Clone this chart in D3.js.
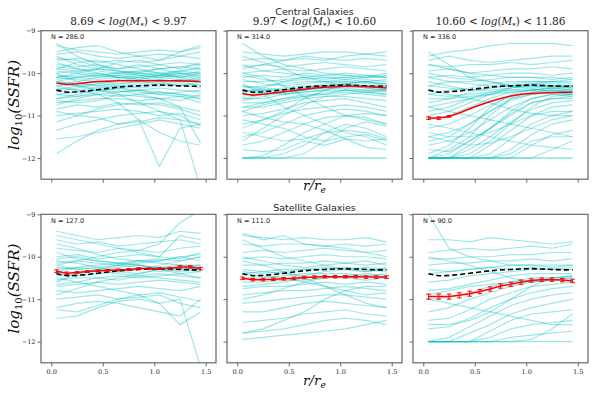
<!DOCTYPE html>
<html lang="en">
<head>
<meta charset="UTF-8">
<title>SSFR radial profiles</title>
<script src="https://d3js.org/d3.v7.min.js"></script>
<style>
  body { margin: 0; background: #fff; }
  svg { display: block; }
  .axis path, .axis line { stroke: #666; }
  .axis text { fill: #222; font-family: "DejaVu Serif", serif; font-size: 6.5px; }
  .title { font-family: "DejaVu Serif", serif; font-size: 10.5px; fill: #222; }
  .head { font-family: "DejaVu Sans", sans-serif; font-size: 9.5px; fill: #222; }
  .nlab { font-family: "DejaVu Sans", sans-serif; font-size: 6.5px; fill: #222; }
  .lab { font-family: "DejaVu Serif", serif; font-style: italic; fill: #111; }
</style>
</head>
<body>
<svg id="chart" width="598" height="399"></svg>
<script>
// radii of the individual profiles and of the binned medians
const rProfile = [0.05, 0.25, 0.45, 0.65, 0.85, 1.05, 1.25, 1.45];
const rBins = [0.05, 0.15, 0.25, 0.35, 0.45, 0.55, 0.65, 0.75, 0.85, 0.95, 1.05, 1.15, 1.25, 1.35, 1.45];

const massTitles = [["8.69", "9.97"], ["9.97", "10.60"], ["10.60", "11.86"]];
const nCentral = [286.0, 314.0, 336.0];
const nSatellite = [127.0, 111.0, 90.0];

// median of all galaxies (dashed black)
const allMedian = [-10.40, -10.45, -10.44, -10.42, -10.39, -10.36, -10.33, -10.31, -10.30, -10.29, -10.28, -10.29, -10.30, -10.31, -10.31];

// medians of each subsample (red) and their errors
const cenMedLow = [-10.23, -10.27, -10.25, -10.22, -10.20, -10.19, -10.18, -10.18, -10.18, -10.18, -10.18, -10.18, -10.18, -10.19, -10.20];
const cenMedMid = [-10.48, -10.52, -10.50, -10.47, -10.44, -10.41, -10.38, -10.35, -10.33, -10.32, -10.31, -10.31, -10.32, -10.33, -10.35];
const cenMedHigh = [-11.06, -11.06, -11.02, -10.94, -10.84, -10.75, -10.67, -10.60, -10.54, -10.50, -10.48, -10.47, -10.46, -10.45, -10.45];
const satMedLow = [-10.34, -10.39, -10.37, -10.35, -10.33, -10.32, -10.31, -10.30, -10.28, -10.28, -10.28, -10.27, -10.24, -10.24, -10.28];
const satMedMid = [-10.51, -10.54, -10.54, -10.53, -10.52, -10.51, -10.49, -10.48, -10.47, -10.47, -10.47, -10.47, -10.48, -10.48, -10.48];
const satMedHigh = [-10.94, -10.94, -10.94, -10.91, -10.87, -10.82, -10.76, -10.69, -10.65, -10.60, -10.56, -10.54, -10.54, -10.55, -10.57];

const cenErrLow = [0, 0, 0, 0, 0, 0, 0, 0, 0, 0, 0, 0, 0, 0, 0];
const cenErrMid = [0, 0, 0, 0, 0, 0, 0, 0, 0, 0, 0, 0, 0, 0, 0];
const cenErrHigh = [0.03, 0.03, 0.02, 0, 0, 0, 0, 0, 0, 0, 0, 0, 0, 0, 0];
const satErrLow = [0.03, 0.03, 0.02, 0.02, 0.02, 0.02, 0.02, 0.02, 0.02, 0.02, 0.02, 0.02, 0.03, 0.03, 0.03];
const satErrMid = [0.03, 0.03, 0.03, 0.03, 0.03, 0.03, 0.03, 0.03, 0.03, 0.03, 0.03, 0.03, 0.03, 0.03, 0.03];
const satErrHigh = [0.06, 0.06, 0.06, 0.06, 0.06, 0.05, 0.05, 0.05, 0.05, 0.05, 0.04, 0.04, 0.04, 0.04, 0.04];

// individual galaxy profiles (a readable subset of each sample)
const cenProfLow = [
  [-9.35, -9.45, -9.5, -9.55, -9.5, -9.45, -9.5, -9.4],
  [-9.55, -9.5, -9.6, -9.65, -9.6, -9.55, -9.6, -9.5],
  [-9.7, -9.65, -9.75, -9.7, -9.75, -9.7, -9.6, -9.65],
  [-9.8, -9.85, -9.8, -9.9, -9.85, -9.8, -9.75, -9.8],
  [-9.9, -9.95, -9.9, -9.95, -10.0, -9.9, -9.85, -9.9],
  [-10.0, -9.95, -10.05, -10.0, -9.95, -10.0, -10.05, -9.95],
  [-10.05, -10.1, -10.05, -10.1, -10.05, -10.0, -10.1, -10.05],
  [-10.15, -10.1, -10.15, -10.1, -10.15, -10.1, -10.05, -10.15],
  [-10.2, -10.25, -10.2, -10.15, -10.2, -10.15, -10.2, -10.1],
  [-10.3, -10.25, -10.3, -10.25, -10.2, -10.25, -10.2, -10.3],
  [-10.35, -10.4, -10.35, -10.3, -10.35, -10.3, -10.25, -10.35],
  [-10.5, -10.45, -10.4, -10.45, -10.4, -10.35, -10.4, -10.45],
  [-10.6, -10.55, -10.5, -10.55, -10.5, -10.45, -10.5, -10.55],
  [-10.7, -10.65, -10.6, -10.6, -10.65, -10.6, -10.55, -10.7],
  [-10.85, -10.75, -10.8, -10.7, -10.75, -10.7, -10.8, -10.9],
  [-11.0, -10.95, -10.9, -10.85, -10.9, -11.0, -10.95, -11.1],
  [-11.55, -11.5, -11.4, -11.3, -11.2, -11.1, -11.2, -11.3],
  [-11.9, -11.6, -11.35, -11.2, -11.15, -11.05, -11.1, -11.2],
  [-10.3, -10.4, -10.5, -10.7, -11.1, -12.2, -11.3, -11.2],
  [-10.2, -10.3, -10.4, -10.5, -10.7, -10.9, -11.1, -12.7],
  [-9.6, -9.8, -9.9, -9.75, -9.7, -9.8, -9.9, -9.75],
  [-9.9, -9.75, -9.7, -9.8, -9.9, -10.0, -9.95, -9.85],
  [-10.1, -10.0, -9.9, -9.95, -10.05, -10.1, -10.0, -10.05],
  [-10.2, -10.1, -10.05, -10.0, -9.95, -9.9, -9.85, -9.8],
  [-10.45, -10.35, -10.25, -10.2, -10.1, -10.05, -10.0, -10.0],
  [-10.6, -10.5, -10.4, -10.35, -10.3, -10.25, -10.3, -10.2],
  [-10.75, -10.6, -10.5, -10.45, -10.4, -10.45, -10.5, -10.6],
  [-11.15, -11.0, -10.85, -10.75, -10.7, -10.75, -10.85, -11.0],
  [-11.35, -11.2, -11.1, -11.0, -10.95, -10.9, -11.0, -11.25],
  [-9.3, -9.6, -9.8, -9.95, -10.0, -10.05, -10.1, -10.2],
  [-10.0, -10.2, -10.3, -10.35, -10.45, -10.5, -10.55, -10.6],
  [-10.9, -11.0, -11.05, -11.2, -11.1, -11.4, -11.6, -11.7],
  [-10.25, -10.3, -10.35, -10.4, -10.5, -10.6, -10.8, -11.65],
  [-9.5, -9.4, -9.35, -9.5, -9.6, -9.7, -9.5, -9.35],
  [-10.1, -10.15, -10.2, -10.25, -10.2, -10.15, -10.2, -10.15],
  [-9.85, -9.9, -9.95, -10.0, -10.05, -10.1, -10.15, -10.2],
  [-9.95, -10.0, -10.1, -10.05, -10.0, -10.05, -9.95, -10.0],
  [-10.1, -10.05, -10.0, -10.1, -10.15, -10.05, -10.1, -10.0],
  [-10.25, -10.2, -10.1, -10.05, -10.1, -10.2, -10.15, -10.2],
  [-10.4, -10.3, -10.25, -10.3, -10.25, -10.2, -10.3, -10.25],
  [-9.75, -9.9, -10.0, -10.1, -10.1, -10.05, -9.95, -9.9],
  [-10.5, -10.55, -10.45, -10.35, -10.4, -10.5, -10.45, -10.4],
  [-9.65, -9.7, -9.85, -9.9, -9.8, -9.9, -10.0, -10.1],
  [-10.65, -10.7, -10.65, -10.5, -10.55, -10.6, -10.65, -10.5]
];
const cenProfMid = [
  [-9.5, -9.55, -9.6, -9.55, -9.5, -9.5, -9.55, -9.5],
  [-9.7, -9.65, -9.7, -9.6, -9.65, -9.7, -9.65, -9.7],
  [-9.85, -9.8, -9.85, -9.8, -9.75, -9.8, -9.85, -9.8],
  [-10.0, -9.95, -9.9, -9.95, -9.9, -9.85, -9.9, -9.95],
  [-10.1, -10.05, -10.1, -10.0, -10.05, -10.0, -10.05, -10.1],
  [-10.2, -10.2, -10.15, -10.1, -10.15, -10.1, -10.15, -10.2],
  [-10.35, -10.3, -10.25, -10.2, -10.2, -10.2, -10.25, -10.25],
  [-10.4, -10.4, -10.35, -10.3, -10.3, -10.25, -10.3, -10.35],
  [-10.5, -10.5, -10.45, -10.4, -10.35, -10.35, -10.4, -10.4],
  [-10.6, -10.6, -10.5, -10.45, -10.4, -10.4, -10.45, -10.5],
  [-10.7, -10.7, -10.6, -10.5, -10.5, -10.45, -10.5, -10.55],
  [-10.8, -10.8, -10.7, -10.6, -10.55, -10.55, -10.6, -10.65],
  [-11.0, -10.95, -10.85, -10.7, -10.65, -10.6, -10.7, -10.8],
  [-11.2, -11.1, -10.95, -10.85, -10.8, -10.75, -10.8, -10.9],
  [-11.5, -11.4, -11.2, -11.0, -10.9, -10.85, -10.9, -11.0],
  [-11.7, -11.6, -11.4, -11.2, -11.05, -11.0, -11.05, -11.2],
  [-12.0, -12.0, -12.0, -12.0, -12.0, -12.0, -12.0, -12.0],
  [-12.0, -12.0, -11.9, -11.7, -11.4, -11.2, -11.3, -11.5],
  [-11.8, -11.85, -11.8, -11.6, -11.7, -11.55, -11.6, -11.55],
  [-11.4, -11.5, -11.6, -11.55, -11.4, -11.35, -11.4, -11.55],
  [-9.3, -9.6, -9.8, -9.9, -10.0, -10.05, -10.1, -10.0],
  [-10.25, -10.5, -10.8, -11.0, -11.2, -11.4, -11.5, -11.7],
  [-10.9, -11.05, -11.15, -11.2, -11.35, -11.55, -11.75, -11.8],
  [-10.0, -10.1, -10.3, -10.55, -10.8, -11.0, -11.1, -11.2],
  [-11.3, -11.1, -10.9, -10.6, -10.4, -10.25, -10.2, -10.25],
  [-11.6, -11.3, -11.0, -10.75, -10.55, -10.5, -10.45, -10.5],
  [-9.6, -9.75, -9.9, -10.1, -10.2, -10.3, -10.35, -10.4],
  [-9.9, -9.8, -9.7, -9.65, -9.7, -9.6, -9.55, -9.6],
  [-10.45, -10.35, -10.2, -10.1, -10.05, -10.05, -10.1, -10.1],
  [-10.65, -10.55, -10.45, -10.35, -10.3, -10.3, -10.3, -10.35],
  [-12.0, -11.95, -11.7, -11.4, -11.2, -11.0, -10.95, -11.0],
  [-12.0, -12.0, -12.0, -11.9, -11.6, -11.3, -11.15, -11.25],
  [-11.1, -11.2, -11.3, -11.5, -11.6, -11.5, -11.45, -11.6],
  [-10.55, -10.45, -10.5, -10.4, -10.3, -10.25, -10.3, -10.3],
  [-10.3, -10.35, -10.4, -10.35, -10.3, -10.25, -10.2, -10.3],
  [-10.8, -10.7, -10.6, -10.55, -10.5, -10.4, -10.45, -10.4],
  [-10.15, -10.25, -10.3, -10.25, -10.2, -10.15, -10.2, -10.15],
  [-10.45, -10.4, -10.4, -10.35, -10.25, -10.2, -10.2, -10.25],
  [-10.3, -10.4, -10.5, -10.45, -10.4, -10.3, -10.35, -10.4],
  [-10.6, -10.5, -10.45, -10.4, -10.35, -10.35, -10.3, -10.3],
  [-10.9, -10.75, -10.65, -10.55, -10.45, -10.4, -10.4, -10.45],
  [-10.05, -10.15, -10.2, -10.15, -10.1, -10.15, -10.1, -10.05],
  [-12.0, -12.0, -12.0, -12.0, -12.0, -12.0, -12.0, -12.0],
  [-9.8, -9.95, -10.0, -10.05, -10.1, -10.1, -10.05, -10.1]
];
const cenProfHigh = [
  [-9.6, -9.5, -9.45, -9.35, -9.3, -9.3, -9.3, -9.35],
  [-9.7, -9.6, -9.7, -9.75, -9.7, -9.65, -9.6, -9.6],
  [-9.8, -9.85, -9.8, -9.8, -9.75, -9.8, -9.75, -9.7],
  [-9.95, -9.9, -10.0, -9.95, -9.9, -9.9, -9.85, -9.9],
  [-10.1, -10.05, -10.1, -10.05, -10.0, -10.0, -10.05, -10.0],
  [-10.3, -10.2, -10.2, -10.15, -10.1, -10.1, -10.1, -10.15],
  [-10.5, -10.4, -10.35, -10.25, -10.2, -10.2, -10.2, -10.2],
  [-10.7, -10.6, -10.45, -10.35, -10.3, -10.25, -10.25, -10.3],
  [-10.9, -10.8, -10.6, -10.45, -10.35, -10.3, -10.3, -10.35],
  [-11.1, -11.0, -10.8, -10.6, -10.45, -10.4, -10.35, -10.4],
  [-11.3, -11.2, -11.0, -10.75, -10.55, -10.45, -10.4, -10.45],
  [-11.5, -11.4, -11.2, -10.9, -10.65, -10.5, -10.45, -10.5],
  [-11.7, -11.6, -11.4, -11.1, -10.8, -10.6, -10.5, -10.55],
  [-12.0, -11.9, -11.6, -11.3, -10.95, -10.7, -10.6, -10.6],
  [-12.0, -12.0, -11.8, -11.5, -11.15, -10.85, -10.7, -10.65],
  [-12.0, -12.0, -12.0, -11.7, -11.35, -11.0, -10.8, -10.75],
  [-12.0, -12.0, -12.0, -11.9, -11.55, -11.2, -11.0, -10.9],
  [-12.0, -12.0, -12.0, -12.0, -11.8, -11.45, -11.2, -11.1],
  [-12.0, -12.0, -12.0, -12.0, -12.0, -11.7, -11.45, -11.35],
  [-12.0, -12.0, -12.0, -12.0, -12.0, -12.0, -11.8, -11.6],
  [-12.0, -12.0, -12.0, -12.0, -12.0, -12.0, -12.0, -12.0],
  [-11.5, -11.6, -11.7, -11.65, -11.5, -11.3, -11.1, -11.0],
  [-11.2, -11.3, -11.4, -11.5, -11.6, -11.7, -11.75, -11.8],
  [-10.8, -10.9, -11.0, -11.1, -11.2, -11.3, -11.4, -11.5],
  [-10.4, -10.5, -10.6, -10.7, -10.85, -10.95, -11.0, -11.0],
  [-10.0, -10.1, -10.15, -10.2, -10.3, -10.35, -10.45, -10.5],
  [-9.5, -9.8, -10.1, -10.2, -10.3, -10.3, -10.35, -10.3],
  [-10.6, -10.6, -10.55, -10.5, -10.45, -10.4, -10.4, -10.45],
  [-11.9, -11.7, -11.3, -10.8, -10.5, -10.4, -10.35, -10.35],
  [-12.0, -11.8, -11.5, -11.0, -10.6, -10.45, -10.4, -10.4],
  [-11.0, -10.9, -10.7, -10.5, -10.35, -10.25, -10.2, -10.25],
  [-12.0, -12.0, -11.9, -11.6, -11.2, -10.8, -10.55, -10.5],
  [-10.2, -10.3, -10.4, -10.4, -10.35, -10.3, -10.3, -10.3],
  [-11.4, -11.5, -11.5, -11.4, -11.2, -11.0, -10.9, -10.9],
  [-12.0, -12.0, -12.0, -12.0, -11.9, -11.6, -11.5, -11.5],
  [-9.8, -9.9, -10.0, -10.05, -10.1, -10.1, -10.15, -10.1],
  [-10.3, -10.35, -10.4, -10.35, -10.3, -10.25, -10.3, -10.35],
  [-10.8, -10.7, -10.6, -10.5, -10.4, -10.35, -10.3, -10.3],
  [-11.6, -11.5, -11.2, -10.9, -10.6, -10.5, -10.45, -10.45],
  [-12.0, -12.0, -11.7, -11.3, -10.9, -10.6, -10.5, -10.5],
  [-10.5, -10.55, -10.5, -10.45, -10.4, -10.4, -10.35, -10.4],
  [-12.0, -12.0, -12.0, -12.0, -12.0, -12.0, -12.0, -12.0],
  [-10.1, -10.2, -10.25, -10.3, -10.25, -10.2, -10.2, -10.15],
  [-11.8, -11.85, -11.6, -11.3, -11.0, -10.7, -10.6, -10.55]
];
const satProfLow = [
  [-9.4, -9.5, -9.6, -9.55, -9.5, -9.55, -9.4, -9.45],
  [-9.6, -9.7, -9.65, -9.75, -9.7, -9.65, -9.6, -9.7],
  [-9.8, -9.85, -9.9, -9.8, -9.85, -9.9, -9.8, -9.75],
  [-10.0, -9.95, -10.05, -10.0, -9.95, -10.0, -10.05, -9.9],
  [-10.15, -10.1, -10.15, -10.2, -10.1, -10.1, -10.0, -10.1],
  [-10.3, -10.25, -10.3, -10.25, -10.2, -10.25, -10.2, -10.2],
  [-10.4, -10.45, -10.4, -10.35, -10.4, -10.3, -10.35, -10.3],
  [-10.55, -10.5, -10.5, -10.45, -10.5, -10.45, -10.4, -10.5],
  [-10.7, -10.65, -10.6, -10.65, -10.6, -10.55, -10.6, -10.65],
  [-10.8, -10.85, -10.8, -10.75, -10.7, -10.75, -10.8, -10.7],
  [-11.0, -10.95, -10.9, -11.0, -10.9, -10.85, -10.95, -11.05],
  [-11.2, -11.1, -11.05, -11.1, -11.2, -11.3, -11.4, -11.0],
  [-11.45, -11.4, -11.2, -11.05, -11.0, -11.1, -11.0, -12.6],
  [-10.2, -10.1, -10.0, -9.9, -9.85, -9.7, -9.2, -8.9],
  [-10.5, -10.6, -10.7, -10.8, -10.9, -11.1, -11.6, -11.3],
  [-9.7, -9.8, -9.95, -10.05, -10.1, -10.15, -10.2, -10.25],
  [-10.9, -10.75, -10.6, -10.5, -10.4, -10.3, -10.25, -10.2],
  [-10.1, -10.15, -10.25, -10.35, -10.3, -10.2, -10.1, -10.0],
  [-10.6, -10.4, -10.3, -10.2, -10.15, -10.1, -10.0, -9.95],
  [-10.25, -10.3, -10.35, -10.4, -10.45, -10.5, -10.55, -10.6],
  [-9.9, -10.05, -10.1, -10.15, -10.2, -10.3, -10.4, -10.35],
  [-11.25, -11.3, -11.15, -11.0, -10.95, -10.9, -11.1, -11.2],
  [-10.35, -10.25, -10.2, -10.15, -10.2, -10.3, -10.25, -10.3],
  [-9.5, -9.6, -9.7, -9.8, -9.9, -10.0, -9.5, -9.6],
  [-10.05, -10.0, -10.1, -10.15, -10.1, -10.05, -10.1, -10.0],
  [-10.45, -10.4, -10.35, -10.3, -10.3, -10.25, -10.3, -10.35],
  [-10.2, -10.3, -10.25, -10.2, -10.25, -10.35, -10.3, -10.25],
  [-10.65, -10.6, -10.5, -10.55, -10.45, -10.4, -10.45, -10.5]
];
const satProfMid = [
  [-9.5, -9.55, -9.6, -9.55, -9.6, -9.6, -9.55, -9.65],
  [-9.7, -9.75, -9.7, -9.7, -9.75, -9.7, -9.75, -9.7],
  [-9.9, -9.85, -9.9, -9.85, -9.8, -9.85, -9.9, -9.85],
  [-10.05, -10.0, -10.05, -10.0, -9.95, -10.0, -10.0, -10.05],
  [-10.2, -10.2, -10.15, -10.15, -10.1, -10.15, -10.1, -10.2],
  [-10.4, -10.35, -10.3, -10.3, -10.25, -10.3, -10.25, -10.3],
  [-10.5, -10.5, -10.45, -10.4, -10.4, -10.4, -10.45, -10.4],
  [-10.6, -10.6, -10.55, -10.55, -10.5, -10.5, -10.55, -10.5],
  [-10.75, -10.7, -10.7, -10.65, -10.6, -10.65, -10.6, -10.65],
  [-10.9, -10.85, -10.8, -10.8, -10.75, -10.7, -10.75, -10.8],
  [-11.1, -11.05, -11.0, -10.95, -10.9, -10.9, -10.95, -11.0],
  [-11.3, -11.3, -11.2, -11.1, -11.05, -11.1, -11.15, -11.2],
  [-11.55, -11.5, -11.45, -11.35, -11.3, -11.25, -11.35, -11.4],
  [-11.8, -11.75, -11.7, -11.6, -11.5, -11.45, -11.5, -11.6],
  [-11.95, -11.9, -11.85, -11.8, -11.75, -11.7, -11.6, -11.5],
  [-11.8, -11.7, -11.5, -11.3, -11.0, -10.8, -10.7, -10.7],
  [-10.1, -10.2, -10.35, -10.5, -10.7, -10.9, -11.1, -11.2],
  [-9.6, -9.8, -10.0, -10.1, -10.2, -10.3, -10.35, -10.3],
  [-10.3, -10.35, -10.4, -10.45, -10.35, -10.3, -10.35, -10.25],
  [-11.0, -10.9, -10.75, -10.6, -10.5, -10.45, -10.4, -10.45],
  [-10.4, -10.45, -10.5, -10.6, -10.7, -10.8, -10.9, -10.85],
  [-9.45, -9.6, -9.5, -9.7, -9.75, -9.8, -9.9, -10.0],
  [-10.35, -10.4, -10.35, -10.3, -10.3, -10.25, -10.3, -10.35],
  [-10.0, -10.1, -10.2, -10.25, -10.2, -10.15, -10.2, -10.15],
  [-10.7, -10.65, -10.6, -10.5, -10.45, -10.5, -10.45, -10.5]
];
const satProfHigh = [
  [-9.6, -9.6, -9.65, -9.55, -9.6, -9.65, -9.7, -9.65],
  [-9.9, -9.85, -9.8, -9.85, -9.8, -9.75, -9.8, -9.7],
  [-10.05, -10.05, -10.0, -10.0, -9.95, -9.95, -9.9, -9.9],
  [-10.2, -10.15, -10.15, -10.1, -10.1, -10.05, -10.1, -10.05],
  [-10.4, -10.35, -10.3, -10.25, -10.2, -10.2, -10.2, -10.2],
  [-10.6, -10.55, -10.45, -10.4, -10.35, -10.3, -10.3, -10.3],
  [-10.8, -10.75, -10.65, -10.55, -10.45, -10.4, -10.4, -10.4],
  [-11.0, -10.95, -10.85, -10.7, -10.6, -10.5, -10.5, -10.45],
  [-11.3, -11.2, -11.0, -10.85, -10.7, -10.6, -10.55, -10.55],
  [-11.5, -11.45, -11.25, -11.0, -10.85, -10.7, -10.65, -10.6],
  [-11.7, -11.65, -11.45, -11.2, -11.0, -10.85, -10.75, -10.7],
  [-12.0, -11.9, -11.65, -11.4, -11.15, -11.0, -10.9, -10.85],
  [-12.0, -12.0, -11.8, -11.6, -11.35, -11.2, -11.1, -11.0],
  [-12.0, -12.0, -12.0, -11.75, -11.5, -11.35, -11.3, -11.25],
  [-12.0, -12.0, -12.0, -11.9, -11.7, -11.6, -11.55, -11.5],
  [-12.0, -12.0, -12.0, -12.0, -11.9, -11.85, -11.8, -11.75],
  [-12.0, -12.0, -12.0, -12.0, -12.0, -11.95, -11.7, -11.35],
  [-9.0, -9.8, -10.0, -10.1, -10.2, -10.2, -10.25, -10.2],
  [-10.0, -10.1, -10.2, -10.35, -10.5, -10.6, -10.55, -10.5],
  [-11.0, -11.1, -11.2, -11.3, -11.4, -11.5, -11.6, -11.6],
  [-10.9, -10.8, -10.7, -10.65, -10.6, -10.55, -10.5, -10.5],
  [-11.6, -11.6, -11.5, -11.3, -11.0, -10.7, -10.5, -10.45],
  [-10.3, -10.35, -10.3, -10.25, -10.3, -10.25, -10.3, -10.25],
  [-12.0, -12.0, -12.0, -12.0, -12.0, -12.0, -12.0, -12.0]
];

const panels = [
  { row: 0, col: 0, n: nCentral[0], prof: cenProfLow, med: cenMedLow, err: cenErrLow },
  { row: 0, col: 1, n: nCentral[1], prof: cenProfMid, med: cenMedMid, err: cenErrMid },
  { row: 0, col: 2, n: nCentral[2], prof: cenProfHigh, med: cenMedHigh, err: cenErrHigh },
  { row: 1, col: 0, n: nSatellite[0], prof: satProfLow, med: satMedLow, err: satErrLow },
  { row: 1, col: 1, n: nSatellite[1], prof: satProfMid, med: satMedMid, err: satErrMid },
  { row: 1, col: 2, n: nSatellite[2], prof: satProfHigh, med: satMedHigh, err: satErrHigh }
];

const svg = d3.select("#chart");
const colX = [41, 227, 413], rowY = [30.7, 214.3];
const pw = 175, ph = 148.5;

panels.forEach((p, i) => {
  const x0 = colX[p.col], y0 = rowY[p.row];
  const x = d3.scaleLinear().domain([-0.1, 1.6]).range([x0, x0 + pw]);
  const y = d3.scaleLinear().domain([-12.5, -9]).range([y0 + ph, y0]);

  svg.append("clipPath").attr("id", "clip" + i)
    .append("rect").attr("x", x0).attr("y", y0).attr("width", pw).attr("height", ph);

  const g = svg.append("g").attr("clip-path", `url(#clip${i})`);

  const line = d3.line().x((d, j) => x(rProfile[j])).y(d => y(d));
  g.selectAll("path.prof")
    .data(p.prof)
    .join("path")
      .attr("class", "prof")
      .attr("d", line)
      .attr("fill", "none")
      .attr("stroke", "#00bfbf")
      .attr("stroke-opacity", 0.38)
      .attr("stroke-width", 1.2);

  const binLine = d3.line().x((d, j) => x(rBins[j])).y(d => y(d));

  g.append("path")
    .attr("d", binLine(allMedian))
    .attr("fill", "none")
    .attr("stroke", "#000")
    .attr("stroke-width", 1.6)
    .attr("stroke-dasharray", "5,3");

  // error bars (only where there is an error to show)
  const eb = g.append("g").attr("stroke", "#f00").attr("stroke-width", 1);
  p.med.forEach((m, j) => {
    if (!p.err[j]) return;
    const xx = x(rBins[j]), lo = y(m - p.err[j]), hi = y(m + p.err[j]);
    eb.append("line").attr("x1", xx).attr("x2", xx).attr("y1", lo).attr("y2", hi);
    eb.append("line").attr("x1", xx - 2.3).attr("x2", xx + 2.3).attr("y1", lo).attr("y2", lo);
    eb.append("line").attr("x1", xx - 2.3).attr("x2", xx + 2.3).attr("y1", hi).attr("y2", hi);
  });

  g.append("path")
    .attr("d", binLine(p.med))
    .attr("fill", "none")
    .attr("stroke", "#f00")
    .attr("stroke-width", 1.5);

  // frame
  svg.append("rect")
    .attr("x", x0).attr("y", y0).attr("width", pw).attr("height", ph)
    .attr("fill", "none").attr("stroke", "#666").attr("stroke-width", 1.2);

  const xAxis = d3.axisBottom(x).tickValues([0, 0.5, 1.0, 1.5]).tickSize(3.5).tickPadding(3)
    .tickFormat(p.row === 1 ? d3.format(".1f") : "");
  svg.append("g").attr("class", "axis")
    .attr("transform", `translate(0,${y0 + ph})`)
    .call(xAxis)
    .call(a => a.select(".domain").remove());

  const yAxis = d3.axisLeft(y).tickValues([-12, -11, -10, -9]).tickSize(3.5).tickPadding(2)
    .tickFormat(p.col === 0 ? d3.format("d") : "");
  svg.append("g").attr("class", "axis")
    .attr("transform", `translate(${x0},0)`)
    .call(yAxis)
    .call(a => a.select(".domain").remove());

  svg.append("text").attr("class", "nlab")
    .attr("x", x0 + 10).attr("y", y0 + 8.5)
    .text(`N = ${p.n.toFixed(1)}`);
});

// mass-bin titles
massTitles.forEach((t, c) => {
  const tx = svg.append("text").attr("class", "title")
    .attr("x", colX[c] + pw / 2).attr("y", 25).attr("text-anchor", "middle");
  tx.append("tspan").text(`${t[0]} < `);
  tx.append("tspan").attr("font-style", "italic").text("log");
  tx.append("tspan").text("(");
  tx.append("tspan").attr("font-style", "italic").text("M");
  tx.append("tspan").attr("font-size", "7px").attr("dy", 2.5).text("*");
  tx.append("tspan").attr("dy", -2.5).text(`) < ${t[1]}`);
});

svg.append("text").attr("class", "head")
  .attr("x", colX[1] + pw / 2).attr("y", 14.5).attr("text-anchor", "middle")
  .text("Central Galaxies");
svg.append("text").attr("class", "head")
  .attr("x", colX[1] + pw / 2).attr("y", 211).attr("text-anchor", "middle")
  .text("Satellite Galaxies");

// axis labels
[rowY[0] + ph / 2, rowY[1] + ph / 2].forEach(cy => {
  const t = svg.append("text").attr("class", "lab")
    .attr("transform", `translate(19,${cy}) rotate(-90)`)
    .attr("text-anchor", "middle").attr("font-size", "15px");
  t.append("tspan").text("log");
  t.append("tspan").attr("font-size", "10px").attr("font-style", "normal").attr("dy", 3).text("10");
  t.append("tspan").attr("dy", -3).text("(SSFR)");
});

[190, 385].forEach(ty => {
  const t = svg.append("text").attr("class", "lab")
    .attr("x", colX[1] + pw / 2).attr("y", ty)
    .attr("text-anchor", "middle").attr("font-size", "13.5px");
  t.append("tspan").text("r/r");
  t.append("tspan").attr("font-size", "9px").attr("dy", 2.5).text("e");
});
</script>
</body>
</html>
